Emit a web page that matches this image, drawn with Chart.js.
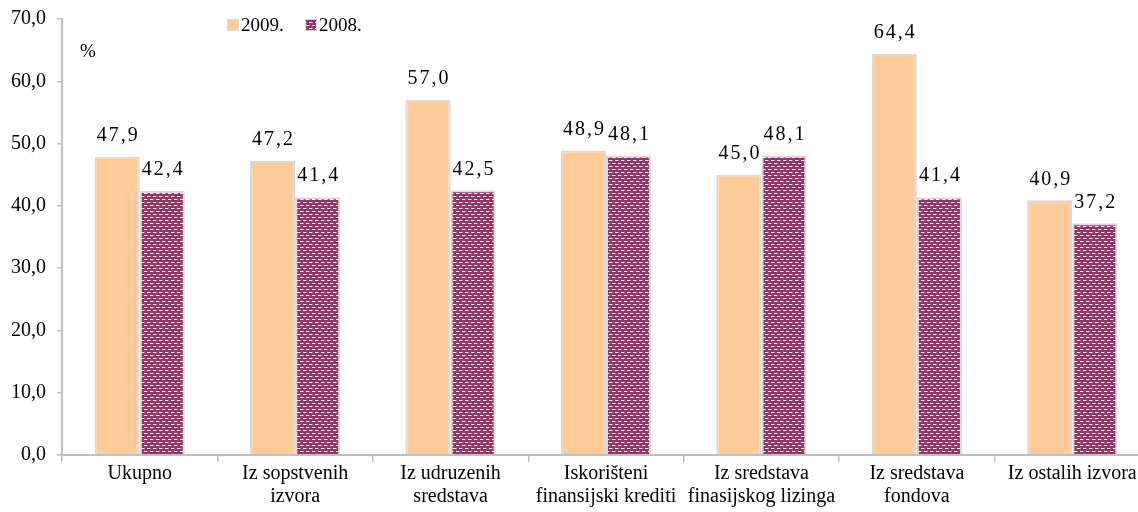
<!DOCTYPE html>
<html>
<head>
<meta charset="utf-8">
<script src="https://cdn.jsdelivr.net/npm/chart.js@4.4.1/dist/chart.umd.min.js"></script>
<style>
html,body{margin:0;padding:0;background:#fff;overflow:hidden;width:1138px;height:512px;}
#wrap{position:absolute;left:0;top:0;width:1150px;height:512px;}
</style>
</head>
<body>
<div id="wrap"><canvas id="c"></canvas></div>
<script>
const categories = [
  "Ukupno",
  ["Iz sopstvenih", "izvora"],
  ["Iz udruzenih", "sredstava"],
  ["Iskorišteni", "finansijski krediti"],
  ["Iz sredstava", "finasijskog lizinga"],
  ["Iz sredstava", "fondova"],
  "Iz ostalih izvora"
];
const series2009 = [47.9, 47.2, 57.0, 48.9, 45.0, 64.4, 40.9];
const series2008 = [42.4, 41.4, 42.5, 48.1, 48.1, 41.4, 37.2];
const seriesLabels = ["2009.", "2008."];
const yTicks = [0, 10, 20, 30, 40, 50, 60, 70];
const unitLabel = "%";

const FONT = "'Liberation Serif', 'Times New Roman', serif";
const ORANGE = "#FFCC99";
const PURPLE = "#993366";
const BORDER = "#D9D9D9";

function makePattern() {
  const p = document.createElement('canvas');
  p.width = 6; p.height = 6;
  const g = p.getContext('2d');
  g.fillStyle = PURPLE; g.fillRect(0, 0, 6, 6);
  g.fillStyle = "#ffffff";
  g.fillRect(0, 1, 3, 1);
  g.fillRect(3, 4, 3, 1);
  g.fillStyle = "rgba(255,255,255,0.45)";
  g.fillRect(3, 1, 1, 1);
  g.fillRect(0, 4, 1, 1);
  const ctx = document.getElementById('c').getContext('2d');
  return ctx.createPattern(p, 'repeat');
}
const pattern = makePattern();

const fmt = v => v.toFixed(1).replace('.', ',');

const labelPlugin = {
  id: 'labels',
  afterDatasetsDraw(chart) {
    const ctx = chart.ctx;
    ctx.save();
    ctx.font = "20px " + FONT;
    ctx.fillStyle = "#000";
    ctx.textAlign = "center";
    ctx.textBaseline = "bottom";
    try { ctx.letterSpacing = "2px"; } catch (e) {}
    chart.data.datasets.forEach((ds, di) => {
      const meta = chart.getDatasetMeta(di);
      meta.data.forEach((bar, i) => {
        ctx.fillText(fmt(ds.data[i]), bar.x + 1, bar.y - 11);
      });
    });
    ctx.restore();

    // unit label
    ctx.save();
    ctx.font = "19px " + FONT;
    ctx.fillStyle = "#000";
    ctx.textBaseline = "middle";
    ctx.textAlign = "left";
    ctx.fillText(unitLabel, 80, 52);
    ctx.restore();

    // legend
    ctx.save();
    ctx.font = "19px " + FONT;
    ctx.textBaseline = "middle";
    ctx.textAlign = "left";
    let x = 227;
    const y = 25;
    chart.data.datasets.forEach((ds, di) => {
      ctx.fillStyle = di === 0 ? ORANGE : pattern;
      ctx.fillRect(x, y - 6, 12, 12);
      ctx.strokeStyle = BORDER; ctx.lineWidth = 1;
      ctx.strokeRect(x + 0.5, y - 5.5, 11, 11);
      ctx.fillStyle = "#000";
      ctx.fillText(ds.label, x + 14, y + 1);
      x += 78;
    });
    ctx.restore();
  }
};

new Chart(document.getElementById('c'), {
  type: 'bar',
  data: {
    labels: categories,
    datasets: [
      { label: seriesLabels[0], data: series2009, backgroundColor: ORANGE, borderColor: BORDER, borderWidth: 2 },
      { label: seriesLabels[1], data: series2008, backgroundColor: pattern, borderColor: BORDER, borderWidth: 2 }
    ]
  },
  options: {
    responsive: true,
    maintainAspectRatio: false,
    animation: false,
    devicePixelRatio: 1,
    layout: { padding: { left: 0, right: 0, top: 19, bottom: 0 } },
    datasets: { bar: { categoryPercentage: 0.58, barPercentage: 1.0 } },
    plugins: { legend: { display: false }, tooltip: { enabled: false } },
    scales: {
      x: {
        offset: true,
        grid: { display: true, drawOnChartArea: false, offset: true, color: "#BFBFBF", tickLength: 7, lineWidth: 1.5 },
        border: { color: "#BFBFBF", width: 2 },
        ticks: { color: "#000", font: { family: FONT, size: 20, lineHeight: 1.15 }, maxRotation: 0, autoSkip: false, padding: 0 },
        afterFit(s) { s.height = 57; s.paddingLeft = 0; s.paddingRight = 0; }
      },
      y: {
        min: 0, max: 70,
        afterBuildTicks(s) { s.ticks = yTicks.map(v => ({ value: v })); },
        grid: { display: true, drawOnChartArea: false, color: "#BFBFBF", tickLength: 5, lineWidth: 1.5 },
        border: { color: "#BFBFBF", width: 2 },
        ticks: { color: "#000", font: { family: FONT, size: 20 }, padding: 11, callback: v => fmt(v) },
        afterFit(s) { s.width = 62; s.paddingTop = 0; s.paddingBottom = 0; }
      }
    }
  },
  plugins: [labelPlugin]
});
</script>
</body>
</html>
